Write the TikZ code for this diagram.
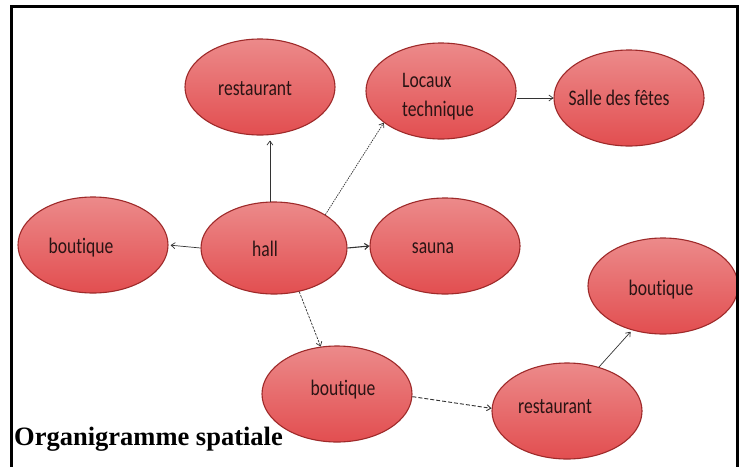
\documentclass[tikz,border=0pt]{standalone}
\usepackage{fontspec}
\usepackage{graphicx}
\setmainfont{Liberation Serif}
\newfontfamily\carl[Ligatures=NoCommon]{Carlito}
\usetikzlibrary{shapes.geometric,arrows.meta}
\definecolor{elltop}{HTML}{EC8A8A}
\definecolor{ellmid}{HTML}{EA7E7E}
\definecolor{ellbot}{HTML}{E24E50}
\definecolor{ellborder}{HTML}{9E2A2A}
\definecolor{txtc}{HTML}{2A1414}
\definecolor{arrc}{HTML}{333333}
\newcommand{\stx}[1]{\scalebox{0.95}[1.2]{#1}}
\begin{document}
\begin{tikzpicture}[x=1pt,y=-1pt,
  room/.style={ellipse, draw=ellborder, line width=1.1pt, top color=elltop, middle color=ellmid, bottom color=ellbot, minimum width=150pt, minimum height=96pt, inner sep=0pt},
  lbl/.style={font=\carl\fontsize{18.5}{24}\selectfont, text=txtc, inner sep=0pt},
  arr/.style={draw=arrc, line width=0.7pt, -{Straight Barb[length=4pt,width=6pt]}},
  title/.style={font=\bfseries\fontsize{26.5}{30}\selectfont, inner sep=0pt, anchor=base west}
]
\useasboundingbox (0,0) rectangle (741,466);
\fill[white] (0,0) rectangle (741,466);

% rooms
\node[room] (rtop)  at (260,87) {};
\node[room] (loc)   at (441,91) {};
\node[room] (salle) at (629,98) {};
\node[room] (bl)    at (93,245) {};
\node[room, minimum width=146pt, minimum height=92pt] (hall) at (274,248) {};
\node[room] (sauna) at (445,246) {};
\node[room] (br)    at (663,286) {};
\node[room] (bb)    at (337,394) {};
\node[room] (rb)    at (567,411) {};

% labels
\node[lbl] (t-rtop)  at (255,89)  {\stx{restaurant}};
\node[lbl, anchor=west] (t-loc) at (402,96) {\stx{\begin{tabular}{@{}l@{}}Locaux\\technique\end{tabular}}};
\node[lbl] (t-salle) at (619,98)  {\stx{Salle des fêtes}};
\node[lbl] (t-bl)    at (81,248)  {\stx{boutique}};
\node[lbl] (t-hall)  at (265,249) {\stx{hall}};
\node[lbl] (t-sauna) at (433,248) {\stx{sauna}};
\node[lbl] (t-br)    at (661,290) {\stx{boutique}};
\node[lbl] (t-bb)    at (343,390) {\stx{boutique}};
\node[lbl] (t-rb)    at (555,407) {\stx{restaurant}};

% connectors
\draw[arr, shorten >=5pt] (hall.95) -- (hall.95 |- rtop.south);
\draw[arr, dash pattern=on 1.5pt off 1pt] (hall.33) -- (loc.209);
\draw[arr] (loc.east |- salle.west) -- (salle.west);
\draw[arr, shorten >=2pt] (hall.west) -- (bl.east);
\draw[arr, line width=1.1pt] (hall.east) -- (sauna.west);
\draw[arr, dash pattern=on 2.5pt off 1.2pt] (hall.-60) -- (bb.109);
\draw[arr, line width=0.9pt, dash pattern=on 4pt off 2pt] (bb.-2) -- (rb.178);
\draw[arr, shorten >=2pt] (rb.54) -- (br.235);

% title
\node[title] (ttl) at (14,445) {Organigramme spatiale};

% frame
\draw[line width=3pt] (11.5,470) -- (11.5,6.5) -- (737.5,6.5) -- (737.5,470);
\end{tikzpicture}
\end{document}
